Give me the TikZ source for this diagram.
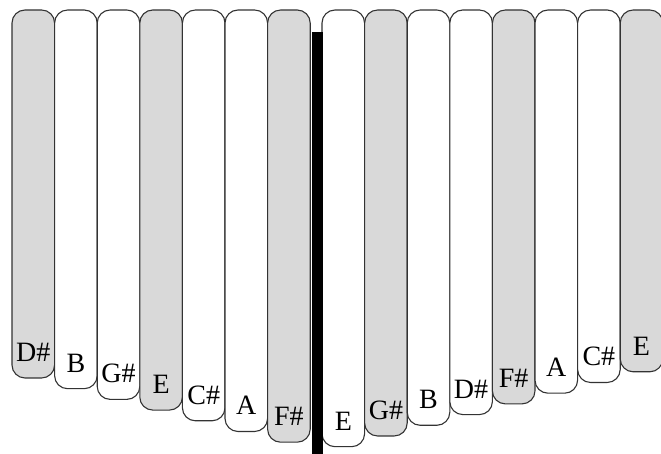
\documentclass[tikz,border=0pt]{standalone}
\usepackage{fontspec}
\setmainfont{Liberation Serif}
\usetikzlibrary{positioning}
\definecolor{keygray}{RGB}{217,217,217}
\def\tinewidth{42.6pt}
\def\tinetop{444pt}

\begin{document}
\begin{tikzpicture}[x=1pt, y=1pt, draw=black!80, line width=1.1pt]
    \tikzstyle{tine}=[rectangle, rounded corners=13pt, draw, fill=white, minimum width=\tinewidth, inner sep=0pt, outer sep=0pt, anchor=north]
    \tikzstyle{white tine}=[tine, fill=white];
    \tikzstyle{gray tine}=[tine, fill=keygray];
    \tikzstyle{note}=[inner sep=0pt, font=\fontsize{28pt}{28pt}\selectfont, anchor=base];
    \tikzstyle{bridge}=[rectangle, fill=black, draw=none, minimum width=11pt, inner sep=0pt, anchor=north];

    \useasboundingbox (0,0) rectangle (661,454);

    % Left tines
    \node[gray tine, minimum height=368pt] (L1) at (33.3,\tinetop) {};
    \node[white tine, minimum height=378.7pt] (L2) at (75.9,\tinetop) {};
    \node[white tine, minimum height=389.4pt] (L3) at (118.5,\tinetop) {};
    \node[gray tine, minimum height=400.1pt] (L4) at (161.1,\tinetop) {};
    \node[white tine, minimum height=410.8pt] (L5) at (203.7,\tinetop) {};
    \node[white tine, minimum height=421.5pt] (L6) at (246.3,\tinetop) {};
    \node[gray tine, minimum height=432.2pt] (L7) at (288.9,\tinetop) {};
    % Right tines
    \node[white tine, minimum height=436.7pt] (R1) at (343.3,\tinetop) {};
    \node[gray tine, minimum height=426pt] (R2) at (385.9,\tinetop) {};
    \node[white tine, minimum height=415.3pt] (R3) at (428.5,\tinetop) {};
    \node[white tine, minimum height=404.6pt] (R4) at (471.1,\tinetop) {};
    \node[gray tine, minimum height=393.9pt] (R5) at (513.7,\tinetop) {};
    \node[white tine, minimum height=383.2pt] (R6) at (556.3,\tinetop) {};
    \node[white tine, minimum height=372.5pt] (R7) at (598.9,\tinetop) {};
    \node[gray tine, minimum height=361.8pt] (R8) at (641.5,\tinetop) {};

    % Bridge bar
    \node[bridge, minimum height=430pt] (bar) at (317,422.3) {};

    % Note names
    \node[note, above=16.5pt of L1.south, anchor=base] (L1-note) {D\#};
    \node[note, above=16.5pt of L2.south, anchor=base] (L2-note) {B};
    \node[note, above=16.5pt of L3.south, anchor=base] (L3-note) {G\#};
    \node[note, above=16.5pt of L4.south, anchor=base] (L4-note) {E};
    \node[note, above=16.5pt of L5.south, anchor=base] (L5-note) {C\#};
    \node[note, above=16.5pt of L6.south, anchor=base] (L6-note) {A};
    \node[note, above=16.5pt of L7.south, anchor=base] (L7-note) {F\#};
    \node[note, above=16.5pt of R1.south, anchor=base] (R1-note) {E};
    \node[note, above=16.5pt of R2.south, anchor=base] (R2-note) {G\#};
    \node[note, above=16.5pt of R3.south, anchor=base] (R3-note) {B};
    \node[note, above=16.5pt of R4.south, anchor=base] (R4-note) {D\#};
    \node[note, above=16.5pt of R5.south, anchor=base] (R5-note) {F\#};
    \node[note, above=16.5pt of R6.south, anchor=base] (R6-note) {A};
    \node[note, above=16.5pt of R7.south, anchor=base] (R7-note) {C\#};
    \node[note, above=16.5pt of R8.south, anchor=base] (R8-note) {E};

\end{tikzpicture}
\end{document}
